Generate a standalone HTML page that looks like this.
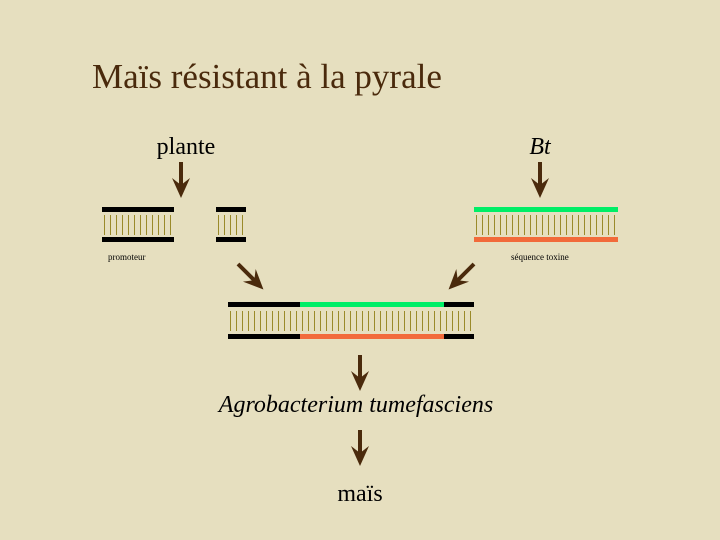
<!DOCTYPE html>
<html><head><style>
body{margin:0;width:720px;height:540px;background:#e6dfbf;overflow:hidden}
svg{display:block}
</style></head><body>
<svg width="720" height="540" xmlns="http://www.w3.org/2000/svg">
<defs>
<pattern id="r" x="0" y="0" width="6" height="20" patternUnits="userSpaceOnUse">
<rect x="2" y="0" width="1" height="20" fill="#9a8a2a"/>
</pattern>
<g id="arr"><rect x="-2" y="0" width="4" height="26" fill="#4a2a0c"/><polygon points="-9,16 0,36 9,16 0,23" fill="#4a2a0c"/></g>
</defs>
<rect width="720" height="540" fill="#e6dfbf"/>
<text x="92" y="88" font-family="Liberation Serif" font-size="35" fill="#4a2a0c">Maïs résistant à la pyrale</text>
<text x="186" y="154" font-family="Liberation Serif" font-size="24" text-anchor="middle" fill="#000">plante</text>
<text x="540" y="154" font-family="Liberation Serif" font-size="24" font-style="italic" text-anchor="middle" fill="#000">Bt</text>
<use href="#arr" x="181" y="162"/>
<use href="#arr" x="540" y="162"/>
<rect x="102" y="207" width="72" height="5" fill="#000"/>
<rect x="102" y="237" width="72" height="5" fill="#000"/>
<rect x="102" y="215" width="72" height="20" fill="url(#r)"/>
<rect x="216" y="207" width="30" height="5" fill="#000"/>
<rect x="216" y="237" width="30" height="5" fill="#000"/>
<rect x="216" y="215" width="30" height="20" fill="url(#r)"/>
<text x="108" y="260" font-family="Liberation Serif" font-size="9" fill="#000">promoteur</text>
<rect x="474" y="207" width="144" height="5" fill="#00ee66"/>
<rect x="474" y="237" width="144" height="5" fill="#f26a3a"/>
<rect x="474" y="215" width="144" height="20" fill="url(#r)"/>
<text x="511" y="260" font-family="Liberation Serif" font-size="9" fill="#000">séquence toxine</text>
<g transform="translate(238,264) rotate(-45)"><use href="#arr"/></g>
<g transform="translate(474,264) rotate(45)"><use href="#arr"/></g>
<rect x="228" y="302" width="246" height="5" fill="#000"/>
<rect x="300" y="302" width="144" height="5" fill="#00ee66"/>
<rect x="228" y="334" width="246" height="5" fill="#000"/>
<rect x="300" y="334" width="144" height="5" fill="#f26a3a"/>
<rect x="228" y="311" width="246" height="20" fill="url(#r)"/>
<use href="#arr" x="360" y="355"/>
<text x="356" y="412" font-family="Liberation Serif" font-size="24" font-style="italic" text-anchor="middle" fill="#000">Agrobacterium tumefasciens</text>
<use href="#arr" x="360" y="430"/>
<text x="360" y="501" font-family="Liberation Serif" font-size="24" text-anchor="middle" fill="#000">maïs</text>
</svg>
</body></html>
